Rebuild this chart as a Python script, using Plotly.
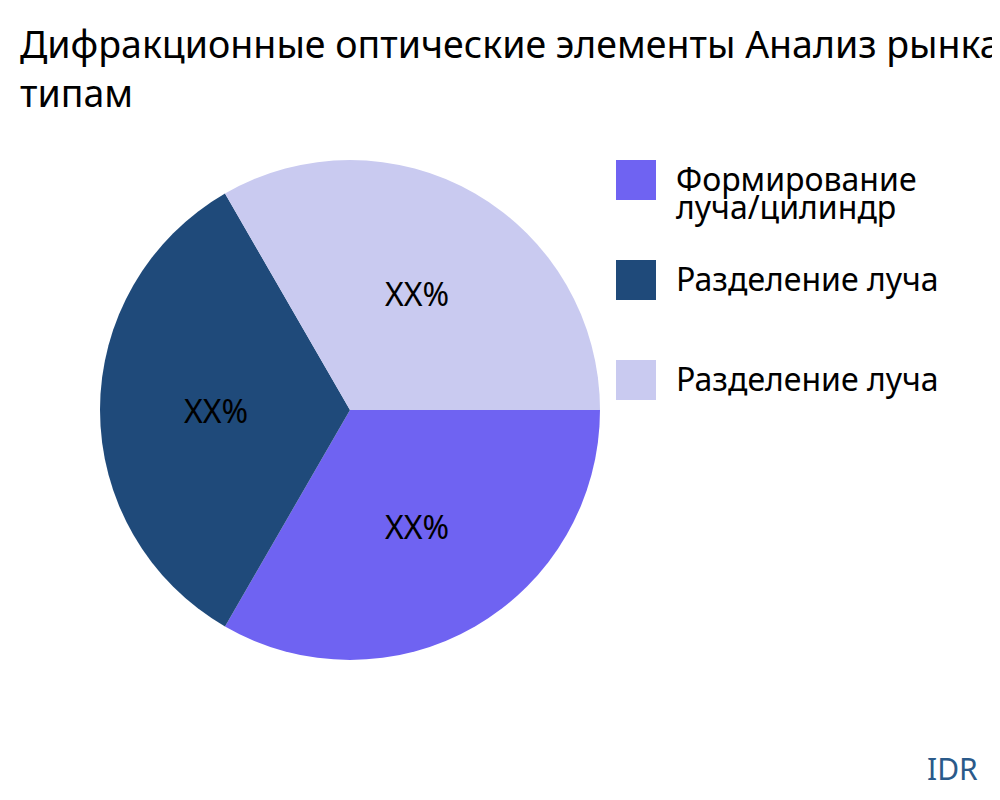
import plotly.graph_objects as go

# данные
categories = ["Формирование<br>луча/цилиндр", "Разделение луча", "Разделение луча "]
values = [1, 1, 1]
slice_text = ["XX%", "XX%", "XX%"]
colors = ["#6f63f2", "#1f4a7a", "#c9caf0"]

title_text = "Дифракционные оптические элементы Анализ рынка по<br>типам"

fig = go.Figure()
fig.add_trace(go.Pie(
    labels=categories,
    values=values,
    text=slice_text,
    textinfo="text",
    textposition="inside",
    insidetextorientation="horizontal",
    textfont=dict(size=32, color="black", family="Noto Sans"),
    marker=dict(colors=colors),
    sort=False,
    direction="clockwise",
    rotation=90,
    showlegend=False,
    domain=dict(x=[0.092, 0.592], y=[0.185, 0.81]),
))

# легенда вручную (крупные квадраты)
shapes = []
annotations = []
for i, (lab, col) in enumerate(zip(categories, colors)):
    y_top = 0.81 - i * 0.125
    y_mid = y_top - 0.025
    shapes.append(dict(type="rect", xref="paper", yref="paper",
                       x0=0.608, x1=0.648, y0=y_top - 0.05, y1=y_top,
                       fillcolor=col, line=dict(width=0)))
    for k, line in enumerate(lab.strip().split("<br>")):
        annotations.append(dict(text=line, xref="paper", yref="paper",
                                x=0.666, y=y_mid + 0.002 - k * 0.035,
                                xanchor="left", yanchor="middle",
                                align="left", showarrow=False,
                                font=dict(size=32, color="black", family="Noto Sans")))

annotations.append(dict(text="IDR", xref="paper", yref="paper", x=0.972, y=0.05,
                        xanchor="right", yanchor="middle", showarrow=False,
                        font=dict(size=30, color="#2a5a8a", family="Noto Sans")))

fig.update_layout(
    title=dict(text=title_text, x=0.012, xanchor="left", y=0.937, yanchor="top",
               font=dict(size=37.5, color="black", family="Noto Sans")),
    width=1000, height=800,
    margin=dict(l=0, r=0, t=0, b=0),
    paper_bgcolor="white",
    plot_bgcolor="white",
    shapes=shapes,
    annotations=annotations,
)

fig.write_html("out.html")
